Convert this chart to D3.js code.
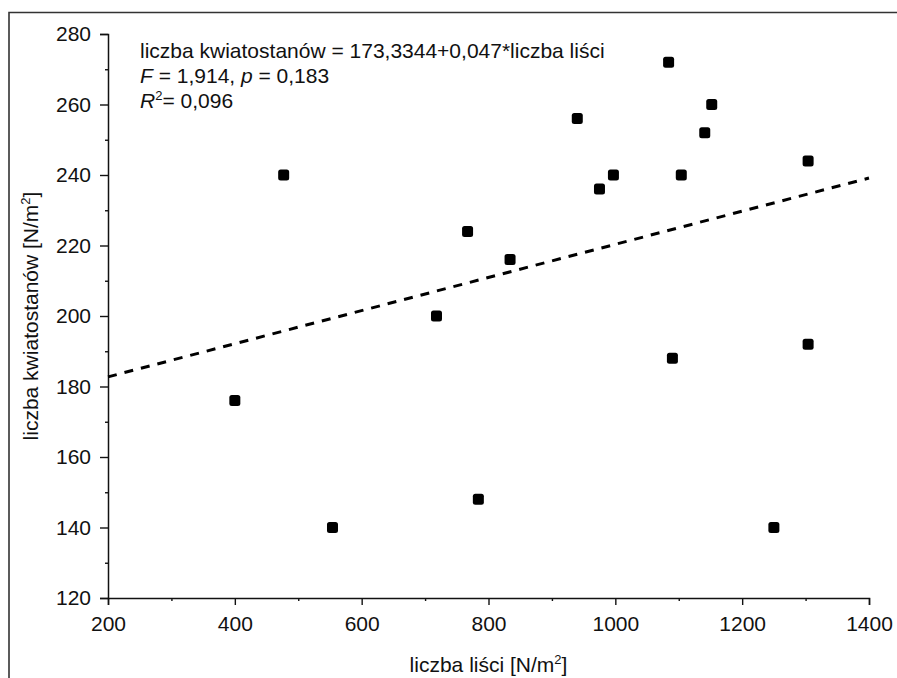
<!DOCTYPE html>
<html>
<head>
<meta charset="utf-8">
<script src="https://cdn.jsdelivr.net/npm/d3@7"></script>
<style>
  html, body { margin: 0; padding: 0; background: #fff; overflow: hidden; }
  svg { display: block; font-family: "Liberation Sans", Arial, sans-serif; }
</style>
</head>
<body>
<svg id="chart" width="897" height="678"></svg>
<script>
// Data
const leafCount   = [400, 477, 554, 718, 767, 784, 834, 940, 975, 997, 1084, 1090, 1104, 1141, 1152, 1250, 1304, 1304];
const inflorCount = [176, 240, 140, 200, 224, 148, 216, 256, 236, 240, 272, 188, 240, 252, 260, 140, 244, 192];
const regIntercept = 173.3344;
const regSlope = 0.047;
const xTicks = [200, 400, 600, 800, 1000, 1200, 1400];
const yTicks = [120, 140, 160, 180, 200, 220, 240, 260, 280];
const xMinor = [300, 500, 700, 900, 1100, 1300];
const yMinor = [130, 150, 170, 190, 210, 230, 250, 270];
const annotationLines = [
  "liczba kwiatostanów = 173,3344+0,047*liczba liści",
  "F = 1,914, p = 0,183",
  "R2 = 0,096"
];

const svg = d3.select("#chart");
const FS = "21px";

// frame (open to the right and bottom, as in the reference crop)
svg.append("path")
  .attr("d", "M9,700 L9,12.5 L920,12.5")
  .attr("fill", "none").attr("stroke", "#333").attr("stroke-width", 1.6);

const x = d3.scaleLinear().domain([200, 1400]).range([108, 869]);
const y = d3.scaleLinear().domain([120, 280]).range([598, 34]);

// axes
const xAxis = svg.append("g").attr("transform", "translate(0,598)")
  .call(d3.axisBottom(x).tickValues(xTicks).tickSize(7).tickPadding(11).tickFormat(d3.format("d")));
const xMin = svg.append("g").attr("transform", "translate(0,598)")
  .call(d3.axisBottom(x).tickValues(xMinor).tickSize(3).tickFormat(""));
const yAxis = svg.append("g").attr("transform", "translate(108,0)")
  .call(d3.axisLeft(y).tickValues(yTicks).tickSize(8).tickPadding(9).tickFormat(d3.format("d")));
const yMin = svg.append("g").attr("transform", "translate(108,0)")
  .call(d3.axisLeft(y).tickValues(yMinor).tickSize(3).tickFormat(""));

[xAxis, xMin, yAxis, yMin].forEach(g => {
  g.selectAll("path.domain").attr("stroke", "#111").attr("stroke-width", 1.5);
  g.selectAll(".tick line").attr("stroke", "#111").attr("stroke-width", 1.4);
  g.selectAll(".tick text").attr("fill", "#111").style("font-size", FS)
    .style("font-family", "'Liberation Sans', Arial, sans-serif");
});
xMin.select("path.domain").remove();
yMin.select("path.domain").remove();

// regression line
const xDom = x.domain();
svg.append("line")
  .attr("x1", x(xDom[0])).attr("y1", y(regIntercept + regSlope * xDom[0]))
  .attr("x2", x(xDom[1])).attr("y2", y(regIntercept + regSlope * xDom[1]))
  .attr("stroke", "#000").attr("stroke-width", 3)
  .attr("stroke-dasharray", "9,8");

// points
const s = 11;
svg.append("g").selectAll("rect")
  .data(leafCount.map((v, i) => [v, inflorCount[i]]))
  .join("rect")
  .attr("x", d => x(d[0]) - s / 2)
  .attr("y", d => y(d[1]) - s / 2)
  .attr("width", s).attr("height", s)
  .attr("rx", 2.5).attr("ry", 2.5)
  .attr("fill", "#000");

// annotation
const ann = svg.append("g").style("font-size", FS).attr("fill", "#111");
ann.append("text").attr("x", 140).attr("y", 58).text(annotationLines[0]);
const l2 = ann.append("text").attr("x", 140).attr("y", 83);
l2.append("tspan").style("font-style", "italic").text("F");
l2.append("tspan").text(" = 1,914, ");
l2.append("tspan").style("font-style", "italic").text("p");
l2.append("tspan").text(" = 0,183");
const l3 = ann.append("text").attr("x", 140).attr("y", 108);
l3.append("tspan").style("font-style", "italic").text("R");
l3.append("tspan").attr("dy", -8).style("font-size", "13px").text("2");
l3.append("tspan").attr("dy", 8).text("= 0,096");

// axis titles
const xt = svg.append("text").attr("x", 488.5).attr("y", 672)
  .attr("text-anchor", "middle").style("font-size", FS).attr("fill", "#111");
xt.append("tspan").text("liczba liści [N/m");
xt.append("tspan").attr("dy", -8).style("font-size", "13px").text("2");
xt.append("tspan").attr("dy", 8).text("]");

const yt = svg.append("text").attr("transform", "translate(38,316) rotate(-90)")
  .attr("text-anchor", "middle").style("font-size", FS).attr("fill", "#111");
yt.append("tspan").text("liczba kwiatostanów [N/m");
yt.append("tspan").attr("dy", -8).style("font-size", "13px").text("2");
yt.append("tspan").attr("dy", 8).text("]");
</script>
</body>
</html>
